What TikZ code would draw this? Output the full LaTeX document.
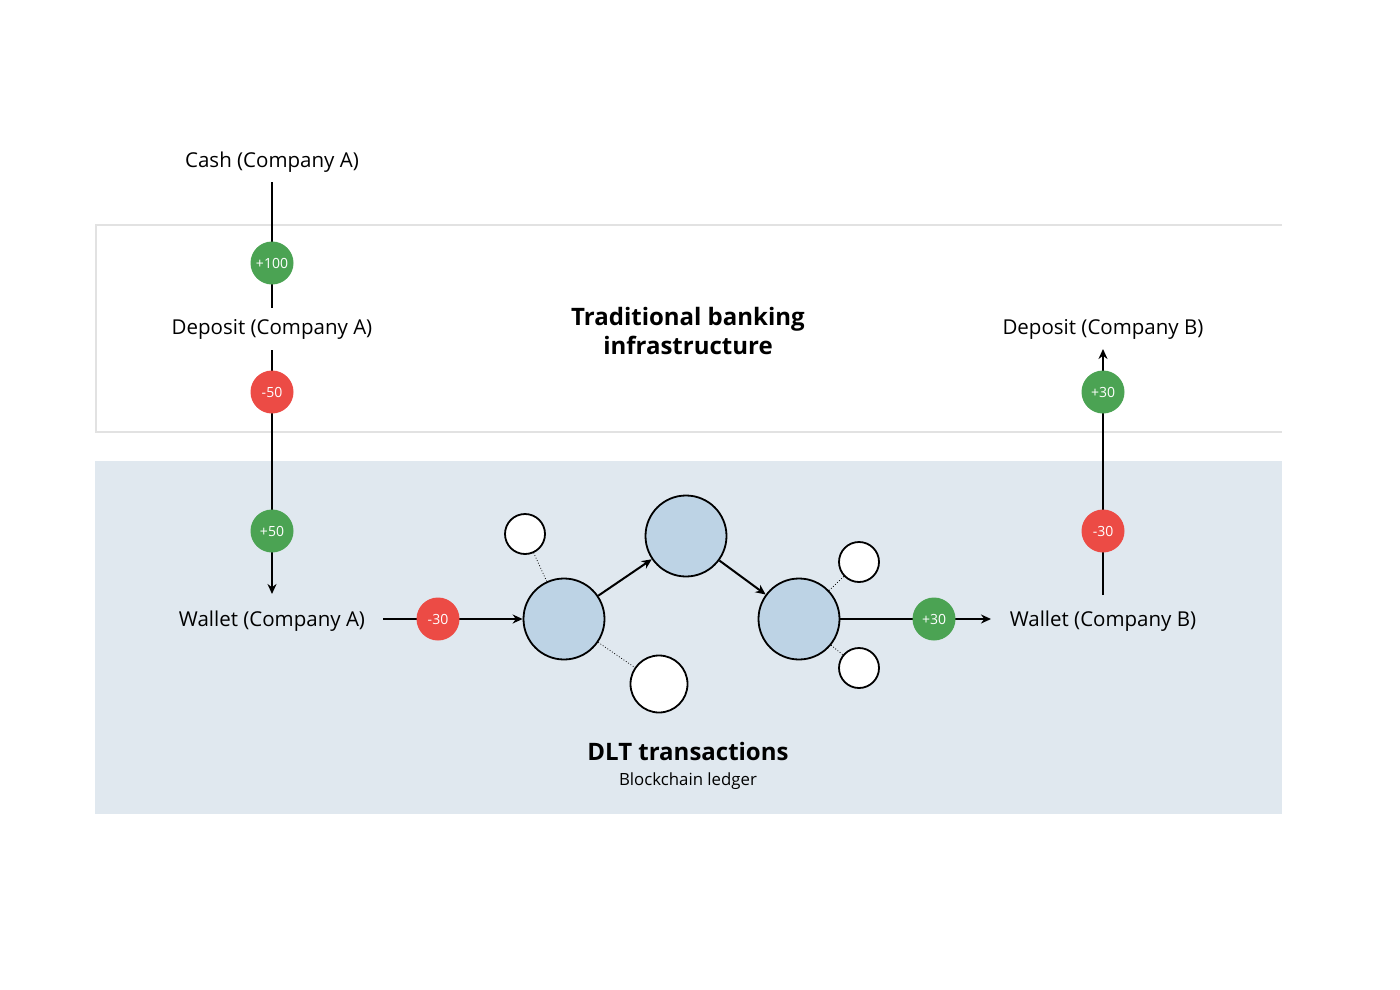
\documentclass[tikz,border=0pt]{standalone}
\usepackage{fontspec}
\setmainfont{Open Sans}
\usetikzlibrary{arrows.meta}
\definecolor{gr}{HTML}{4BA353}
\definecolor{rd}{HTML}{EC4B45}
\definecolor{bg}{HTML}{E0E8EF}
\definecolor{nd}{HTML}{BDD3E5}
\definecolor{bd}{HTML}{E2E2E2}
\begin{document}
\begin{tikzpicture}[x=1pt,y=-1pt,
 lbl/.style={font=\fontsize{20.5}{24}\selectfont},
 badge/.style={circle,minimum size=43pt,inner sep=0pt,text=white,font=\fontsize{14}{16}\selectfont},
 plus/.style={badge,fill=gr},
 minus/.style={badge,fill=rd},
 big/.style={circle,draw,line width=1.8pt,fill=nd,minimum size=81pt,inner sep=0pt},
 small/.style={circle,draw,line width=1.8pt,fill=white,inner sep=0pt},
 ln/.style={line width=2pt},
 arr/.style={ln,-{Stealth[length=10pt,width=9pt]}},
 dot/.style={dotted,line width=0.8pt}]
\useasboundingbox (0,0) rectangle (1400,990);
\draw[bd,line width=1.5pt] (1282,225) -- (96,225) -- (96,432) -- (1282,432);
\fill[bg] (95,461) rectangle (1282,814);
\node[lbl] (cash) at (272,162) {Cash (Company A)};
\node[lbl] (depA) at (272,329) {Deposit (Company A)};
\node[lbl] (walA) at (272,621) {Wallet (Company A)};
\node[lbl] (depB) at (1103,329) {Deposit (Company B)};
\node[lbl] (walB) at (1103,621) {Wallet (Company B)};
\node[font=\bfseries\fontsize{24}{29}\selectfont,align=center] (trad) at (688,331) {Traditional banking\\infrastructure};
\node[font=\bfseries\fontsize{24}{28}\selectfont] (dlt) at (688,751) {DLT transactions};
\node[font=\fontsize{16.8}{20}\selectfont] (bl) at (688,781) {Blockchain ledger};
\coordinate (c1) at (272,182); \coordinate (c2) at (272,308);
\coordinate (a1) at (272,350); \coordinate (a2) at (272,594);
\draw[ln] (c1) -- (c2);
\draw[arr] (a1) -- (a2);
\node[plus] (p100) at (272,263) {+100};
\node[minus] (m50) at (272,392) {-50};
\node[plus] (p50) at (272,531) {+50};
\node[big] (n1) at (564,619) {};
\node[big] (n2) at (686,536) {};
\node[big] (n3) at (799,619) {};
\node[small,minimum size=40pt] (s1) at (525,534) {};
\node[small,minimum size=57pt] (s2) at (659,684) {};
\node[small,minimum size=40pt] (s3) at (859,562) {};
\node[small,minimum size=40pt] (s4) at (859,668) {};
\draw[dot] (n1) -- (s1); \draw[dot] (n1) -- (s2);
\draw[dot] (n3) -- (s3); \draw[dot] (n3) -- (s4);
\coordinate (w1) at (383,619);
\draw[arr] (w1) -- (n1.west);
\node[minus] (m30a) at (438,619) {-30};
\draw[arr] (n1) -- (n2);
\draw[arr] (n2) -- (n3);
\coordinate (w2) at (991,619);
\draw[arr] (n3.east) -- (w2);
\node[plus] (p30a) at (934,619) {+30};
\coordinate (b1) at (1103,595); \coordinate (b2) at (1103,349);
\draw[arr] (b1) -- (b2);
\node[minus] (m30b) at (1103,531) {-30};
\node[plus] (p30b) at (1103,392) {+30};
\end{tikzpicture}
\end{document}
